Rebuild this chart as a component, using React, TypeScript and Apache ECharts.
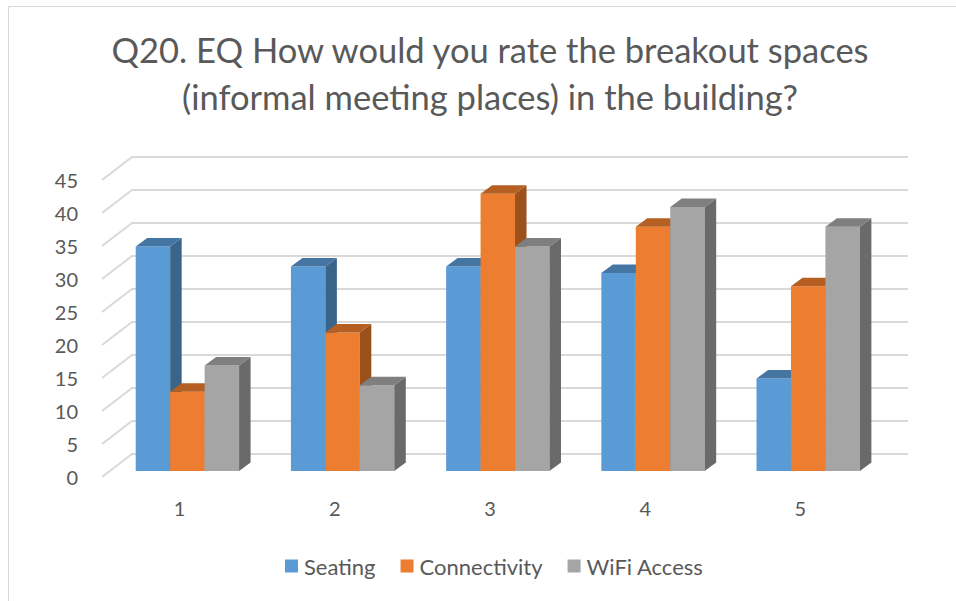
import React, { useEffect, useRef } from "react";
import * as echarts from "echarts";

const categories = ["1", "2", "3", "4", "5"];
const seriesNames = ["Seating", "Connectivity", "WiFi Access"];
const seating = [34, 31, 31, 30, 14];
const connectivity = [12, 21, 42, 37, 28];
const wifi = [16, 13, 34, 40, 37];
const gridValues = [0, 5, 10, 15, 20, 25, 30, 35, 40, 45];
const titleLines = [
  "Q20. EQ How would you rate the breakout spaces",
  "(informal meeting places) in the building?",
];

const FRONT = ["#5B9BD5", "#ED7D31", "#A5A5A5"];
const TOP = ["#4575A3", "#B65F22", "#7F7F7F"];
const SIDE = ["#3A6489", "#9C501B", "#6A6A6A"];
const FONT = "Lato";
const TEXT = "#595959";

export default function App() {
  const ref = useRef<HTMLDivElement>(null);
  useEffect(() => {
    document.body.style.margin = "0";
    const chart = echarts.init(ref.current!, null, { renderer: "svg" });
    const values = [seating, connectivity, wifi];
    const WALL_DX = 30, WALL_DY = -23;
    const FDX = 7.8, FDY = -6;
    const DDX = 11.5, DDY = -8.5;

    const barSeries = values.map((vals, s) => ({
      type: "custom",
      name: seriesNames[s],
      itemStyle: { color: FRONT[s] },
      encode: { x: 0, y: 1 },
      data: vals.map((v, i) => [i, v]),
      z: 3 + s,
      renderItem: (params: any, api: any) => {
        const cat = api.value(0);
        const val = api.value(1);
        const p = api.coord([cat, val]);
        const p0 = api.coord([cat, 0]);
        const band = api.size([1, 0])[0];
        const bw = band * 0.222;
        const x0 = p[0] - 1.5 * bw + s * bw + FDX;
        const x1 = x0 + bw;
        const yT = p[1] + FDY;
        const yB = p0[1] + FDY;
        return {
          type: "group",
          children: [
            {
              type: "rect",
              shape: { x: x0, y: yT, width: bw, height: yB - yT },
              style: { fill: FRONT[s] },
            },
            {
              type: "polygon",
              shape: {
                points: [
                  [x1, yT],
                  [x1 + DDX, yT + DDY],
                  [x1 + DDX, yB + DDY],
                  [x1, yB],
                ],
              },
              style: { fill: SIDE[s] },
            },
            {
              type: "polygon",
              shape: {
                points: [
                  [x0, yT],
                  [x0 + DDX, yT + DDY],
                  [x1 + DDX, yT + DDY],
                  [x1, yT],
                ],
              },
              style: { fill: TOP[s] },
            },
          ],
        };
      },
    }));

    const gridSeries = {
      type: "custom",
      name: "grid",
      silent: true,
      z: 1,
      encode: { x: 0, y: 1 },
      data: gridValues.map((v) => [0, v]),
      renderItem: (params: any, api: any) => {
        const v = api.value(1);
        const p = api.coord([0, v]);
        const cs = params.coordSys;
        const xL = cs.x;
        const xR = cs.x + cs.width + WALL_DX;
        return {
          type: "polyline",
          shape: {
            points: [
              [xL, p[1]],
              [xL + WALL_DX, p[1] + WALL_DY],
              [xR, p[1] + WALL_DY],
            ],
          },
          style: { stroke: "#D9D9D9", lineWidth: 2, fill: "none" },
        };
      },
    };

    chart.setOption({
      animation: false,
      backgroundColor: "#FFFFFF",
      textStyle: { fontFamily: FONT },
      grid: { left: 102, right: 78, top: 180, bottom: 124 },
      xAxis: {
        type: "category",
        data: categories,
        axisLine: { show: false },
        axisTick: { show: false },
        splitLine: { show: false },
        axisLabel: { color: TEXT, fontSize: 20, fontFamily: FONT, margin: 21 },
      },
      yAxis: {
        type: "value",
        min: 0,
        max: 45,
        interval: 5,
        axisLine: { show: false },
        axisTick: { show: false },
        splitLine: { show: false },
        axisLabel: { color: TEXT, fontSize: 20, fontFamily: FONT, margin: 24 },
      },
      legend: {
        data: seriesNames,
        left: 285,
        top: 555,
        padding: 0,
        icon: "rect",
        itemWidth: 13,
        itemHeight: 13,
        itemGap: 25,
        textStyle: { color: TEXT, fontSize: 22, fontFamily: FONT, padding: [0, 0, 0, 1] },
      },
      graphic: [
        {
          type: "line",
          shape: { x1: 8.5, y1: 6.5, x2: 8.5, y2: 601 },
          style: { stroke: "#D9D9D9", lineWidth: 1 },
        },
        {
          type: "line",
          shape: { x1: 8.5, y1: 6.5, x2: 956, y2: 6.5 },
          style: { stroke: "#D9D9D9", lineWidth: 1 },
        },
        ...titleLines.map((t, i) => ({
          type: "text",
          x: 490,
          y: 49 + i * 47,
          style: {
            text: t,
            fill: TEXT,
            fontSize: 34.5,
            fontFamily: FONT,
            textAlign: "center",
            textVerticalAlign: "middle",
          },
        })),
      ],
      series: [gridSeries, ...barSeries],
    });
    return () => chart.dispose();
  }, []);
  return <div ref={ref} style={{ width: 956, height: 601 }} />;
}
